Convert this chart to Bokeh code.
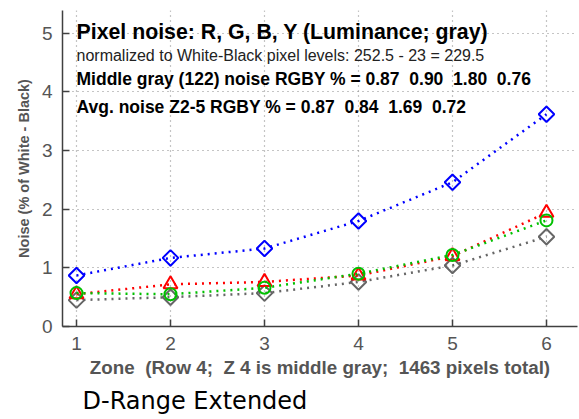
import math
from bokeh.plotting import figure
from bokeh.models import Title, FixedTicker, Range1d, Label
from bokeh.embed import file_html
from bokeh.resources import INLINE

zones = [1, 2, 3, 4, 5, 6]
noise_r = [0.55, 0.72, 0.76, 0.87, 1.20, 1.94]
noise_g = [0.57, 0.55, 0.66, 0.90, 1.22, 1.81]
noise_b = [0.87, 1.17, 1.33, 1.80, 2.46, 3.62]
noise_y = [0.45, 0.50, 0.57, 0.76, 1.04, 1.53]
x_ticks = [1, 2, 3, 4, 5, 6]
y_ticks = [0, 1, 2, 3, 4, 5]

S2 = "\u00a0 "
title_text = "Pixel noise: R, G, B, Y (Luminance; gray)"
norm_text = "normalized to White-Black pixel levels: 252.5 - 23 = 229.5"
mid_text = "Middle gray (122) noise RGBY % = 0.87" + S2 + "0.90" + S2 + "1.80" + S2 + "0.76"
avg_text = "Avg. noise Z2-5 RGBY % = 0.87" + S2 + "0.84" + S2 + "1.69" + S2 + "0.72"
x_label = "Zone" + S2 + "(Row 4;" + S2 + "Z 4 is middle gray;" + S2 + "1463 pixels total)"
y_label = "Noise (% of White - Black)"
caption = "D-Range Extended"

FONT = "Liberation Sans"
AX = "#555555"

p = figure(width=579, height=419, output_backend="svg", toolbar_location=None,
           x_range=Range1d(0.851, 6.33), y_range=Range1d(0, 5.39),
           min_border_left=62, min_border_right=2, min_border_top=10,
           min_border_bottom=93)
p.outline_line_color = None
p.background_fill_color = "white"

for ax in (p.xaxis[0], p.yaxis[0]):
    ax.major_tick_in = 7
    ax.major_tick_out = 0
    ax.minor_tick_in = 0
    ax.minor_tick_out = 0
    ax.axis_line_color = "#404040"
    ax.axis_line_width = 1.5
    ax.major_tick_line_color = "#404040"
    ax.major_tick_line_width = 1.5
    ax.major_label_text_font = FONT
    ax.major_label_text_font_size = "19px"
    ax.major_label_text_color = AX

p.xaxis.ticker = FixedTicker(ticks=x_ticks)
p.yaxis.ticker = FixedTicker(ticks=y_ticks)
p.xaxis.major_label_standoff = 10
p.yaxis.major_label_standoff = 10
p.xaxis.axis_label = x_label
p.xaxis.axis_label_text_font = FONT
p.xaxis.axis_label_text_font_size = "18.8px"
p.xaxis.axis_label_text_font_style = "bold"
p.xaxis.axis_label_text_color = AX
p.xaxis.axis_label_standoff = 4

p.xgrid.ticker = FixedTicker(ticks=x_ticks)
p.ygrid.ticker = FixedTicker(ticks=y_ticks)
for g in (p.xgrid[0], p.ygrid[0]):
    g.grid_line_color = "#8a8a8a"
    g.grid_line_dash = "1 4"
    g.grid_line_width = 1.2

series = [
    (noise_y, "#666666", "square"),
    (noise_r, "#ff0000", "triangle"),
    (noise_g, "#00c000", "circle"),
    (noise_b, "#0000ff", "square"),
]
for vals, col, mk in series:
    p.line(zones, vals, line_color=col, line_width=2.5, line_dash="2 5")
    if mk == "square":
        p.scatter(zones, vals, marker="square", size=11, angle=math.pi / 4,
                  fill_color=None, line_color=col, line_width=2)
    elif mk == "triangle":
        p.scatter(zones, vals, marker="triangle", size=14,
                  fill_color=None, line_color=col, line_width=2)
    else:
        p.scatter(zones, vals, marker="circle", size=12,
                  fill_color=None, line_color=col, line_width=2)

texts = [
    (title_text, 5.03, "21.3px", "bold", "black"),
    (norm_text, 4.62, "16px", "normal", "#222222"),
    (mid_text, 4.23, "17.5px", "bold", "black"),
    (avg_text, 3.75, "17.5px", "bold", "black"),
]
for t, yv, fs, st, col in texts:
    p.add_layout(Label(x=1.0, y=yv, text=t, text_font=FONT, text_font_size=fs,
                       text_font_style=st, text_color=col, text_baseline="middle"))

ytitle = Title(text=y_label, align="center", offset=18, standoff=14,
               text_font=FONT, text_font_size="14.5px", text_font_style="bold",
               text_color=AX)
p.add_layout(ytitle, "left")
cap = Title(text=caption, align="left", offset=20, standoff=9,
            text_font="DejaVu Sans", text_font_size="24px", text_font_style="normal",
            text_color="black")
p.add_layout(cap, "below")

open("out.html", "w").write(file_html(p, INLINE))
